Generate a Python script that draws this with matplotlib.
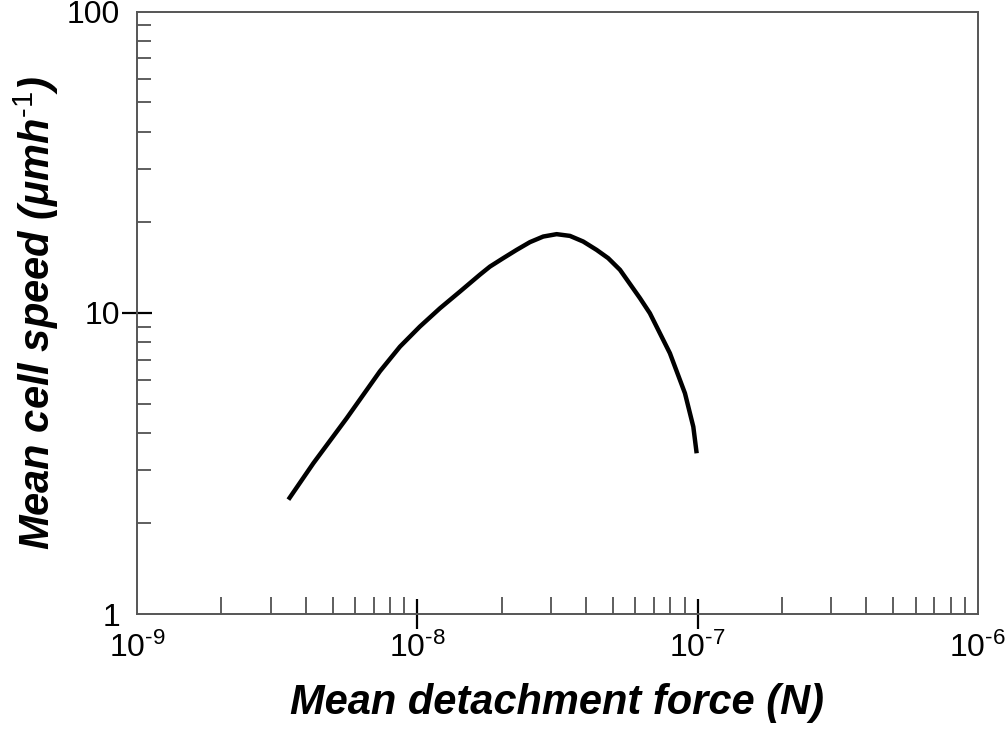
import numpy as np
import matplotlib.pyplot as plt

plt.rcParams['font.family'] = ['Liberation Sans', 'DejaVu Sans']
plt.rcParams['mathtext.fontset'] = 'custom'
plt.rcParams['mathtext.rm'] = 'Liberation Sans'
plt.rcParams['mathtext.it'] = 'Liberation Sans:bold:italic'
plt.rcParams['mathtext.bf'] = 'Liberation Sans:bold'

# curve: detachment force (N) vs mean cell speed (um/h)
force = [3.47e-9, 4.26e-9, 5.60e-9, 7.36e-9, 8.68e-9, 1.022e-8, 1.205e-8,
         1.42e-8, 1.674e-8, 1.817e-8, 2.027e-8, 2.262e-8, 2.524e-8, 2.815e-8,
         3.143e-8, 3.506e-8, 3.91e-8, 4.365e-8, 4.80e-8, 5.29e-8, 6.23e-8,
         6.76e-8, 7.97e-8, 9.02e-8, 9.66e-8, 9.93e-8]
speed = [2.40, 3.17, 4.47, 6.4, 7.73, 9.01, 10.36,
         11.77, 13.4, 14.25, 15.2, 16.19, 17.18, 17.93,
         18.26, 18.02, 17.26, 16.19, 15.2, 13.9, 11.2,
         9.98, 7.35, 5.41, 4.19, 3.42]

xticks = [1e-9, 1e-8, 1e-7, 1e-6]
xlabels = [r'$\mathrm{10^{‐9}}$', r'$\mathrm{10^{‐8}}$', r'$\mathrm{10^{‐7}}$', r'$\mathrm{10^{‐6}}$']
yticks = [1, 10, 100]
ylabels = ['1', '10', '100']

fig = plt.figure(figsize=(10.07, 7.32), dpi=100)
ax = fig.add_axes([0.136, 0.161, 0.835, 0.823])

ax.plot(force, speed, color='black', lw=3.2, solid_capstyle='butt',
        solid_joinstyle='round')

ax.set_xscale('log')
ax.set_yscale('log')
ax.set_xlim(1e-9, 1e-6)
ax.set_ylim(1, 100)

ax.set_xticks(xticks)
ax.set_xticklabels(xlabels)
ax.set_yticks(yticks)
ax.set_yticklabels(ylabels)

ax.tick_params(which='major', direction='inout', length=22, width=1.6,
               labelsize=23, color='black')
ax.tick_params(axis='x', which='major', pad=2)
ax.tick_params(axis='y', which='major', pad=1)
ax.tick_params(which='minor', direction='in', length=10, width=1.1, color='#333333')
ax.tick_params(axis='x', which='minor', length=12)

# ends of each axis carry no visible major tick
for t in [ax.xaxis.get_major_ticks()[0], ax.xaxis.get_major_ticks()[-1],
          ax.yaxis.get_major_ticks()[0], ax.yaxis.get_major_ticks()[-1]]:
    t.tick1line.set_visible(False)

for s in ax.spines.values():
    s.set_color('#555555')
    s.set_linewidth(1.4)

ax.set_xlabel('Mean detachment force (N)', fontsize=30, fontweight='bold',
              fontstyle='italic', labelpad=14)
ax.set_ylabel(r'Mean cell speed (μmh$^{\mathit{‐1}}$)', fontsize=30, fontweight='bold',
              fontstyle='italic', labelpad=4)

plt.savefig('out.png', dpi=100)
